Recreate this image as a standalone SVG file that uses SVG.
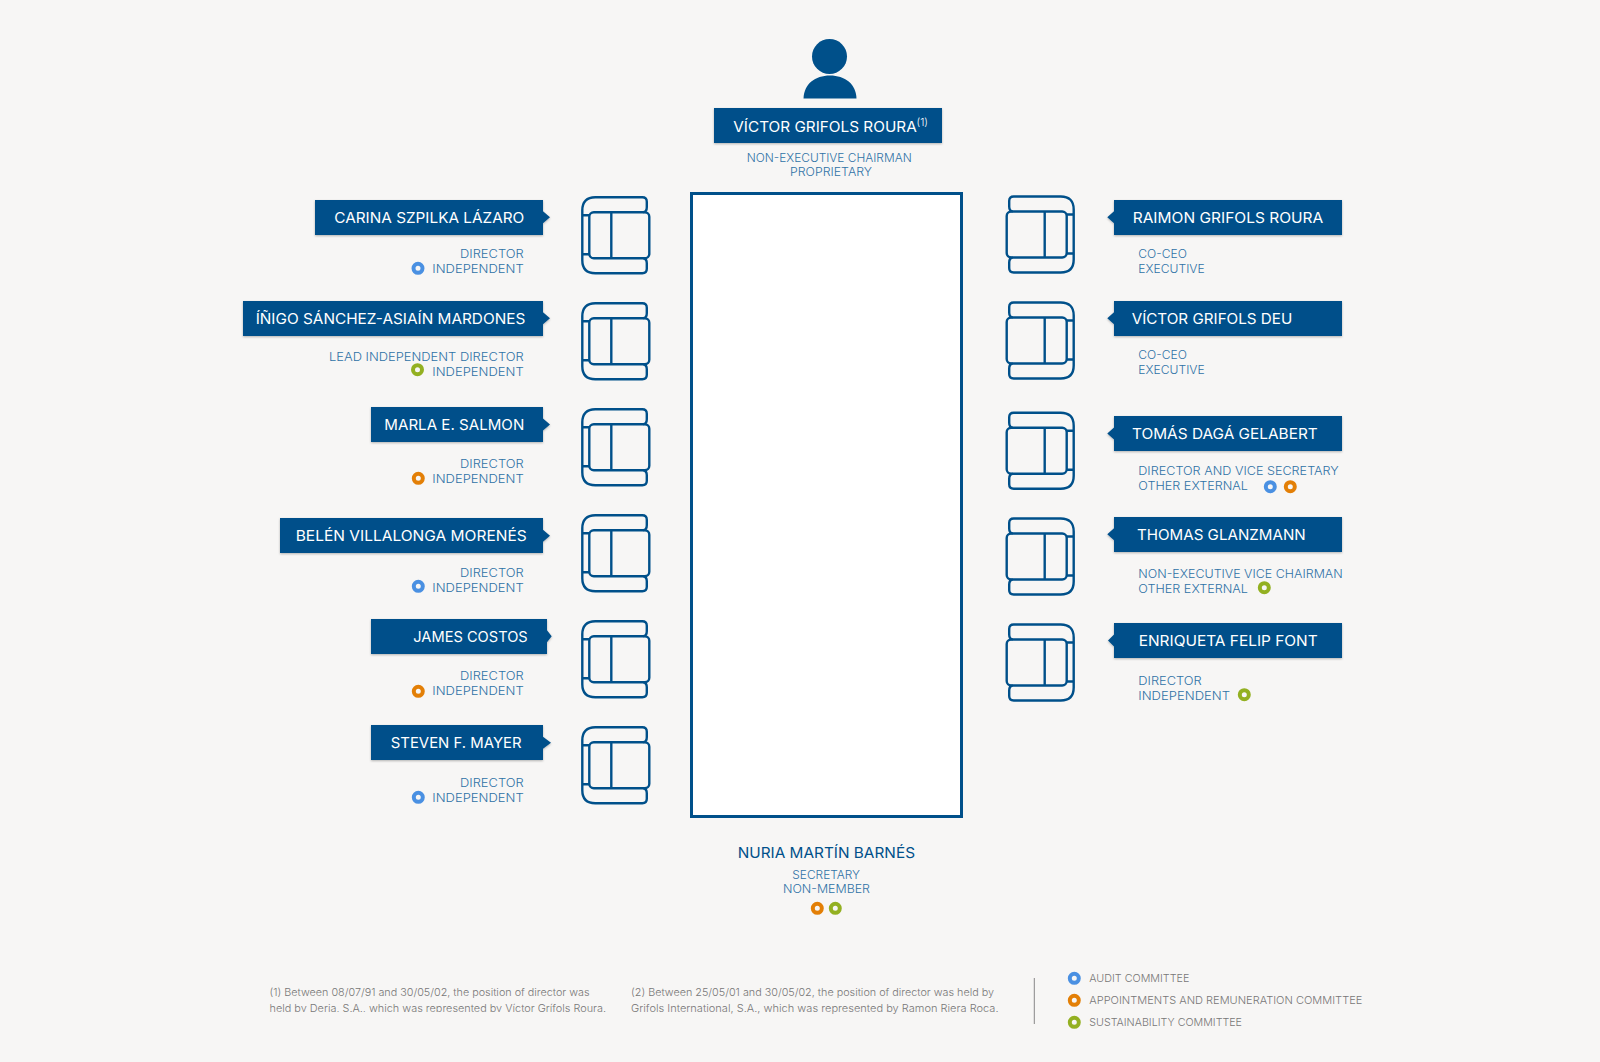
<svg xmlns="http://www.w3.org/2000/svg" width="1600" height="1062" viewBox="0 0 1600 1062">
<style>
text{font-family:"Inter","Open Sans","Liberation Sans",sans-serif}
.n{font-size:14.5px;font-weight:400;fill:#fff}
.s{font-size:11.5px;font-weight:300;fill:#2f72a6}
.f{font-size:10.5px;font-weight:300;fill:#777}
.l{font-size:10.5px;font-weight:300;fill:#777}
.b{fill:#00508a}
.chair{fill:none;stroke:#00508a;stroke-width:2.4;stroke-linejoin:round}
.dot{fill:#f7f6f5;stroke-width:4}
.au{stroke:#4a90e2}.ap{stroke:#e37f06}.su{stroke:#93b021}
</style>
<defs>
<filter id="sh" x="-5%" y="-20%" width="110%" height="150%"><feDropShadow dx="0" dy="1" stdDeviation="1.2" flood-color="#000" flood-opacity="0.28"/></filter>
<clipPath id="cut"><rect x="260" y="980" width="360" height="32"/></clipPath>
<g id="chair" class="chair">
<path d="M62 16Q65.500 15.500 65.500 11V5.500Q65.500 1 61 1H14Q1 1 1 14V64Q1 77 14 77H61Q65.500 77 65.500 72.500V67Q65.500 62.500 62 62"/>
<rect x="8" y="16" width="60" height="46" rx="4.500"/>
<path d="M30 16V62M8 19H1M8 58H1"/>
</g>
</defs>
<rect width="1600" height="1062" fill="#f7f6f5"/>
<g id="table"><rect x="691.500" y="193.500" width="270" height="623" fill="#fff" stroke="#00508a" stroke-width="3"/></g>
<g id="connectors"></g>
<g id="chairman">
<circle class="b" cx="829.500" cy="56.500" r="17.500"/>
<path class="b" d="M803.500 98.500C804 84 815 75.500 830 75.500S856 84 856.500 98.500Z"/>
<rect class="b" x="714" y="108" width="228" height="35" filter="url(#sh)"/>
<text class="n" x="733.300" y="132" textLength="183.400" lengthAdjust="spacingAndGlyphs">VÍCTOR GRIFOLS ROURA</text>
<text x="916.500" y="126" font-size="10.500" font-weight="300" fill="#fff">(1)</text>
<text class="s" x="746.700" y="162.200" textLength="165" lengthAdjust="spacingAndGlyphs">NON-EXECUTIVE CHAIRMAN</text>
<text class="s" x="790" y="176.200" textLength="82" lengthAdjust="spacingAndGlyphs">PROPRIETARY</text>
</g>
<g id="carina">
<path class="b" filter="url(#sh)" d="M315 200H543V211.300L550 217.300L543 223.300V235H315Z"/>
<text class="n" x="334.300" y="223.300" textLength="190" lengthAdjust="spacingAndGlyphs">CARINA SZPILKA LÁZARO</text>
<text class="s" x="460" y="258.300" textLength="63.700" lengthAdjust="spacingAndGlyphs">DIRECTOR</text>
<text class="s" x="432.300" y="273.300" textLength="91.400" lengthAdjust="spacingAndGlyphs">INDEPENDENT</text>
<circle class="dot au" cx="418" cy="268.300" r="4.500"/>
<use href="#chair" x="581.300" y="196.300"/>
</g>
<g id="inigo">
<path class="b" filter="url(#sh)" d="M243 301H543V312.300L550 318.300L543 324.300V336H243Z"/>
<text class="n" x="255.700" y="324.300" textLength="269.600" lengthAdjust="spacingAndGlyphs">ÍÑIGO SÁNCHEZ-ASIAÍN MARDONES</text>
<text class="s" x="329" y="361" textLength="194.700" lengthAdjust="spacingAndGlyphs">LEAD INDEPENDENT DIRECTOR</text>
<text class="s" x="432.300" y="376" textLength="91.400" lengthAdjust="spacingAndGlyphs">INDEPENDENT</text>
<circle class="dot su" cx="417.500" cy="369.700" r="4.500"/>
<use href="#chair" x="581.300" y="302.300"/>
</g>
<g id="marla">
<path class="b" filter="url(#sh)" d="M371 407H543V418.500L550 424.500L543 430.500V442H371Z"/>
<text class="n" x="384.300" y="430.300" textLength="140" lengthAdjust="spacingAndGlyphs">MARLA E. SALMON</text>
<text class="s" x="460" y="468.300" textLength="63.700" lengthAdjust="spacingAndGlyphs">DIRECTOR</text>
<text class="s" x="432.300" y="483.300" textLength="91.400" lengthAdjust="spacingAndGlyphs">INDEPENDENT</text>
<circle class="dot ap" cx="418.300" cy="478.300" r="4.500"/>
<use href="#chair" x="581.300" y="408.300"/>
</g>
<g id="belen">
<path class="b" filter="url(#sh)" d="M280 518H543V529.700L550 535.700L543 541.700V553H280Z"/>
<text class="n" x="295.700" y="541.300" textLength="231" lengthAdjust="spacingAndGlyphs">BELÉN VILLALONGA MORENÉS</text>
<text class="s" x="460" y="577.300" textLength="63.700" lengthAdjust="spacingAndGlyphs">DIRECTOR</text>
<text class="s" x="432.300" y="592.300" textLength="91.400" lengthAdjust="spacingAndGlyphs">INDEPENDENT</text>
<circle class="dot au" cx="418.300" cy="586.300" r="4.500"/>
<use href="#chair" x="581.300" y="514.300"/>
</g>
<g id="james">
<path class="b" filter="url(#sh)" d="M371 619H547V630.300L551.700 636.300L547 642.300V654H371Z"/>
<text class="n" x="413.300" y="642.300" textLength="114.400" lengthAdjust="spacingAndGlyphs">JAMES COSTOS</text>
<text class="s" x="460" y="680.300" textLength="63.700" lengthAdjust="spacingAndGlyphs">DIRECTOR</text>
<text class="s" x="432.300" y="695.300" textLength="91.400" lengthAdjust="spacingAndGlyphs">INDEPENDENT</text>
<circle class="dot ap" cx="418.300" cy="691.300" r="4.500"/>
<use href="#chair" x="581.300" y="620.300"/>
</g>
<g id="steven">
<path class="b" filter="url(#sh)" d="M371 725H543V736.700L551 742.700L543 748.700V760H371Z"/>
<text class="n" x="390.700" y="748.300" textLength="131" lengthAdjust="spacingAndGlyphs">STEVEN F. MAYER</text>
<text class="s" x="460" y="787.300" textLength="63.700" lengthAdjust="spacingAndGlyphs">DIRECTOR</text>
<text class="s" x="432.300" y="802.300" textLength="91.400" lengthAdjust="spacingAndGlyphs">INDEPENDENT</text>
<circle class="dot au" cx="418.300" cy="797.300" r="4.500"/>
<use href="#chair" x="581.300" y="726.300"/>
</g>
<g id="raimon">
<path class="b" filter="url(#sh)" d="M1114 200H1342V235H1114V223.300L1107.300 217.300L1114 211.300Z"/>
<text class="n" x="1132.700" y="223.300" textLength="190.600" lengthAdjust="spacingAndGlyphs">RAIMON GRIFOLS ROURA</text>
<text class="s" x="1138.300" y="258.300" textLength="48.700" lengthAdjust="spacingAndGlyphs">CO-CEO</text>
<text class="s" x="1138.300" y="273.300" textLength="66.400" lengthAdjust="spacingAndGlyphs">EXECUTIVE</text>
<use href="#chair" transform="translate(1074.700 195.500) scale(-1 1)"/>
</g>
<g id="victor-deu">
<path class="b" filter="url(#sh)" d="M1114 301H1342V336H1114V324.300L1107.300 318.300L1114 312.300Z"/>
<text class="n" x="1131.700" y="324.300" textLength="160.600" lengthAdjust="spacingAndGlyphs">VÍCTOR GRIFOLS DEU</text>
<text class="s" x="1138.300" y="359.300" textLength="48.700" lengthAdjust="spacingAndGlyphs">CO-CEO</text>
<text class="s" x="1138.300" y="374.300" textLength="66.400" lengthAdjust="spacingAndGlyphs">EXECUTIVE</text>
<use href="#chair" transform="translate(1074.700 301.500) scale(-1 1)"/>
</g>
<g id="tomas">
<path class="b" filter="url(#sh)" d="M1114 416H1342V451H1114V439.500L1107.300 433.500L1114 427.500Z"/>
<text class="n" x="1132" y="439.300" textLength="185.700" lengthAdjust="spacingAndGlyphs">TOMÁS DAGÁ GELABERT</text>
<text class="s" x="1138.300" y="475.300" textLength="200.400" lengthAdjust="spacingAndGlyphs">DIRECTOR AND VICE SECRETARY</text>
<text class="s" x="1138.300" y="490.300" textLength="109.700" lengthAdjust="spacingAndGlyphs">OTHER EXTERNAL</text>
<circle class="dot au" cx="1270.300" cy="486.700" r="4.500"/>
<circle class="dot ap" cx="1290.300" cy="486.700" r="4.500"/>
<use href="#chair" transform="translate(1074.700 411.700) scale(-1 1)"/>
</g>
<g id="thomas">
<path class="b" filter="url(#sh)" d="M1114 517H1342V552H1114V540.300L1107.300 534.300L1114 528.300Z"/>
<text class="n" x="1137" y="540.300" textLength="168.700" lengthAdjust="spacingAndGlyphs">THOMAS GLANZMANN</text>
<text class="s" x="1138.300" y="578.300" textLength="204.400" lengthAdjust="spacingAndGlyphs">NON-EXECUTIVE VICE CHAIRMAN</text>
<text class="s" x="1138.300" y="593.300" textLength="109.700" lengthAdjust="spacingAndGlyphs">OTHER EXTERNAL</text>
<circle class="dot su" cx="1264.300" cy="587.700" r="4.500"/>
<use href="#chair" transform="translate(1074.700 517.500) scale(-1 1)"/>
</g>
<g id="enriqueta">
<path class="b" filter="url(#sh)" d="M1114 623H1342V658H1114V646.500L1108 640.500L1114 634.500Z"/>
<text class="n" x="1138.700" y="646" textLength="179" lengthAdjust="spacingAndGlyphs">ENRIQUETA FELIP FONT</text>
<text class="s" x="1138.300" y="685.300" textLength="63.400" lengthAdjust="spacingAndGlyphs">DIRECTOR</text>
<text class="s" x="1138.300" y="700" textLength="91.700" lengthAdjust="spacingAndGlyphs">INDEPENDENT</text>
<circle class="dot su" cx="1244.300" cy="694.700" r="4.500"/>
<use href="#chair" transform="translate(1074.700 623.500) scale(-1 1)"/>
</g>
<g id="nuria">
<text x="737.700" y="858.300" font-size="14.500" font-weight="400" fill="#00508a" textLength="177.300" lengthAdjust="spacingAndGlyphs">NURIA MARTÍN BARNÉS</text>
<text class="s" x="792.300" y="879.300" textLength="67.700" lengthAdjust="spacingAndGlyphs">SECRETARY</text>
<text class="s" x="783" y="893.300" textLength="87" lengthAdjust="spacingAndGlyphs">NON-MEMBER</text>
<circle class="dot ap" cx="817.300" cy="908.300" r="4.500"/>
<circle class="dot su" cx="835.300" cy="908.300" r="4.500"/>
</g>
<g id="footnotes">
<text class="f" x="269.500" y="996" textLength="320" lengthAdjust="spacingAndGlyphs">(1) Between 08/07/91 and 30/05/02, the position of director was</text>
<g clip-path="url(#cut)"><text class="f" x="269.500" y="1012" textLength="336.500" lengthAdjust="spacingAndGlyphs">held by Deria, S.A., which was represented by Víctor Grífols Roura.</text></g>
<text class="f" x="631" y="996" textLength="363" lengthAdjust="spacingAndGlyphs">(2) Between 25/05/01 and 30/05/02, the position of director was held by</text>
<text class="f" x="631" y="1012" textLength="367.500" lengthAdjust="spacingAndGlyphs">Grifols International, S.A., which was represented by Ramon Riera Roca.</text>
</g>
<g id="legend">
<line x1="1034.300" y1="978" x2="1034.300" y2="1024" stroke="#888" stroke-width="1"/>
<circle class="dot au" cx="1074.300" cy="978.300" r="4.500"/>
<text class="l" x="1089.300" y="982.300" textLength="100" lengthAdjust="spacingAndGlyphs">AUDIT COMMITTEE</text>
<circle class="dot ap" cx="1074.300" cy="1000.300" r="4.500"/>
<text class="l" x="1089.300" y="1004.300" textLength="273" lengthAdjust="spacingAndGlyphs">APPOINTMENTS AND REMUNERATION COMMITTEE</text>
<circle class="dot su" cx="1074.300" cy="1022.300" r="4.500"/>
<text class="l" x="1089.300" y="1026.300" textLength="152.700" lengthAdjust="spacingAndGlyphs">SUSTAINABILITY COMMITTEE</text>
</g>
</svg>
